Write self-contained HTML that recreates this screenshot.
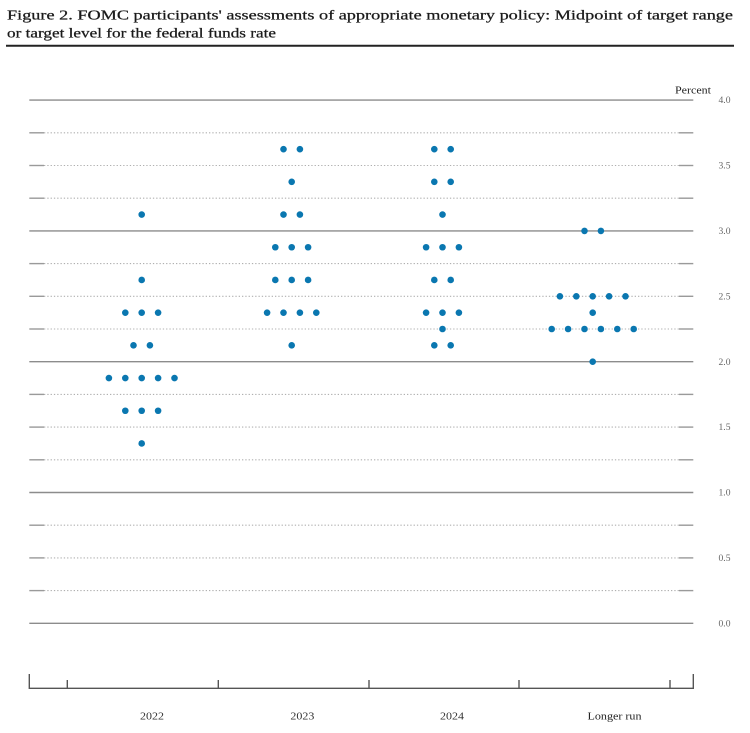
<!DOCTYPE html>
<html>
<head>
<meta charset="utf-8">
<style>
html,body{margin:0;padding:0;background:#fff;}
svg{display:block;}
text{font-family:"Liberation Serif",serif;}
</style>
</head>
<body>
<svg width="750" height="733" viewBox="0 0 750 733" xmlns="http://www.w3.org/2000/svg">
<rect width="750" height="733" fill="#fff"/>
<!-- Title -->
<text x="7" y="19.5" font-size="14" fill="#1a1a1a" stroke="#1a1a1a" stroke-width="0.25" textLength="726" lengthAdjust="spacingAndGlyphs">Figure 2.  FOMC participants' assessments of appropriate monetary policy:  Midpoint of target range</text>
<text x="7" y="37.5" font-size="14" fill="#1a1a1a" stroke="#1a1a1a" stroke-width="0.25" textLength="269" lengthAdjust="spacingAndGlyphs">or target level for the federal funds rate</text>
<line x1="6" y1="45.7" x2="734" y2="45.7" stroke="#222" stroke-width="2"/>

<!-- Percent -->
<text x="693" y="93.5" font-size="10.5" fill="#222" text-anchor="middle" textLength="36" lengthAdjust="spacingAndGlyphs">Percent</text>

<!-- Grid lines -->
<g id="grid">
<g stroke="#8c8c8c" stroke-width="1.4">
<line x1="29.3" y1="100.1" x2="693.3" y2="100.1"/>
<line x1="29.3" y1="230.9" x2="693.3" y2="230.9"/>
<line x1="29.3" y1="361.7" x2="693.3" y2="361.7"/>
<line x1="29.3" y1="492.5" x2="693.3" y2="492.5"/>
<line x1="29.3" y1="623.3" x2="693.3" y2="623.3"/>
</g>
<g stroke="#b0b0b0" stroke-width="1.1" stroke-dasharray="1.3 2">
<line x1="44" y1="132.8" x2="679" y2="132.8"/>
<line x1="44" y1="165.5" x2="679" y2="165.5"/>
<line x1="44" y1="198.2" x2="679" y2="198.2"/>
<line x1="44" y1="263.6" x2="679" y2="263.6"/>
<line x1="44" y1="296.3" x2="679" y2="296.3"/>
<line x1="44" y1="329.0" x2="679" y2="329.0"/>
<line x1="44" y1="394.4" x2="679" y2="394.4"/>
<line x1="44" y1="427.1" x2="679" y2="427.1"/>
<line x1="44" y1="459.8" x2="679" y2="459.8"/>
<line x1="44" y1="525.2" x2="679" y2="525.2"/>
<line x1="44" y1="557.9" x2="679" y2="557.9"/>
<line x1="44" y1="590.6" x2="679" y2="590.6"/>
</g>
<g stroke="#9a9a9a" stroke-width="1.4">
<line x1="29.3" y1="132.8" x2="44" y2="132.8"/><line x1="679" y1="132.8" x2="693.3" y2="132.8"/>
<line x1="29.3" y1="165.5" x2="44" y2="165.5"/><line x1="679" y1="165.5" x2="693.3" y2="165.5"/>
<line x1="29.3" y1="198.2" x2="44" y2="198.2"/><line x1="679" y1="198.2" x2="693.3" y2="198.2"/>
<line x1="29.3" y1="263.6" x2="44" y2="263.6"/><line x1="679" y1="263.6" x2="693.3" y2="263.6"/>
<line x1="29.3" y1="296.3" x2="44" y2="296.3"/><line x1="679" y1="296.3" x2="693.3" y2="296.3"/>
<line x1="29.3" y1="329.0" x2="44" y2="329.0"/><line x1="679" y1="329.0" x2="693.3" y2="329.0"/>
<line x1="29.3" y1="394.4" x2="44" y2="394.4"/><line x1="679" y1="394.4" x2="693.3" y2="394.4"/>
<line x1="29.3" y1="427.1" x2="44" y2="427.1"/><line x1="679" y1="427.1" x2="693.3" y2="427.1"/>
<line x1="29.3" y1="459.8" x2="44" y2="459.8"/><line x1="679" y1="459.8" x2="693.3" y2="459.8"/>
<line x1="29.3" y1="525.2" x2="44" y2="525.2"/><line x1="679" y1="525.2" x2="693.3" y2="525.2"/>
<line x1="29.3" y1="557.9" x2="44" y2="557.9"/><line x1="679" y1="557.9" x2="693.3" y2="557.9"/>
<line x1="29.3" y1="590.6" x2="44" y2="590.6"/><line x1="679" y1="590.6" x2="693.3" y2="590.6"/>
</g>
</g>

<!-- Y labels -->
<g font-size="9" fill="#666" text-anchor="middle">
<text x="724.5" y="103.2" textLength="12" lengthAdjust="spacingAndGlyphs">4.0</text>
<text x="724.5" y="168.6" textLength="12" lengthAdjust="spacingAndGlyphs">3.5</text>
<text x="724.5" y="234.0" textLength="12" lengthAdjust="spacingAndGlyphs">3.0</text>
<text x="724.5" y="299.4" textLength="12" lengthAdjust="spacingAndGlyphs">2.5</text>
<text x="724.5" y="364.8" textLength="12" lengthAdjust="spacingAndGlyphs">2.0</text>
<text x="724.5" y="430.2" textLength="12" lengthAdjust="spacingAndGlyphs">1.5</text>
<text x="724.5" y="495.6" textLength="12" lengthAdjust="spacingAndGlyphs">1.0</text>
<text x="724.5" y="561.0" textLength="12" lengthAdjust="spacingAndGlyphs">0.5</text>
<text x="724.5" y="626.4" textLength="12" lengthAdjust="spacingAndGlyphs">0.0</text>
</g>

<!-- Dots -->
<g fill="#0a77b0">
<circle cx="141.7" cy="214.55" r="3.3"/>
<circle cx="141.7" cy="279.95" r="3.3"/>
<circle cx="125.3" cy="312.65" r="3.3"/><circle cx="141.7" cy="312.65" r="3.3"/><circle cx="158.1" cy="312.65" r="3.3"/>
<circle cx="133.5" cy="345.35" r="3.3"/><circle cx="149.9" cy="345.35" r="3.3"/>
<circle cx="108.9" cy="378.05" r="3.3"/><circle cx="125.3" cy="378.05" r="3.3"/><circle cx="141.7" cy="378.05" r="3.3"/><circle cx="158.1" cy="378.05" r="3.3"/><circle cx="174.5" cy="378.05" r="3.3"/>
<circle cx="125.3" cy="410.75" r="3.3"/><circle cx="141.7" cy="410.75" r="3.3"/><circle cx="158.1" cy="410.75" r="3.3"/>
<circle cx="141.7" cy="443.45" r="3.3"/>
<circle cx="283.5" cy="149.15" r="3.3"/><circle cx="299.9" cy="149.15" r="3.3"/>
<circle cx="291.7" cy="181.85" r="3.3"/>
<circle cx="283.5" cy="214.55" r="3.3"/><circle cx="299.9" cy="214.55" r="3.3"/>
<circle cx="275.3" cy="247.25" r="3.3"/><circle cx="291.7" cy="247.25" r="3.3"/><circle cx="308.1" cy="247.25" r="3.3"/>
<circle cx="275.3" cy="279.95" r="3.3"/><circle cx="291.7" cy="279.95" r="3.3"/><circle cx="308.1" cy="279.95" r="3.3"/>
<circle cx="267.1" cy="312.65" r="3.3"/><circle cx="283.5" cy="312.65" r="3.3"/><circle cx="299.9" cy="312.65" r="3.3"/><circle cx="316.3" cy="312.65" r="3.3"/>
<circle cx="291.7" cy="345.35" r="3.3"/>
<circle cx="434.3" cy="149.15" r="3.3"/><circle cx="450.7" cy="149.15" r="3.3"/>
<circle cx="434.3" cy="181.85" r="3.3"/><circle cx="450.7" cy="181.85" r="3.3"/>
<circle cx="442.5" cy="214.55" r="3.3"/>
<circle cx="426.1" cy="247.25" r="3.3"/><circle cx="442.5" cy="247.25" r="3.3"/><circle cx="458.9" cy="247.25" r="3.3"/>
<circle cx="434.3" cy="279.95" r="3.3"/><circle cx="450.7" cy="279.95" r="3.3"/>
<circle cx="426.1" cy="312.65" r="3.3"/><circle cx="442.5" cy="312.65" r="3.3"/><circle cx="458.9" cy="312.65" r="3.3"/>
<circle cx="442.5" cy="329.0" r="3.3"/>
<circle cx="434.3" cy="345.35" r="3.3"/><circle cx="450.7" cy="345.35" r="3.3"/>
<circle cx="584.5" cy="230.9" r="3.3"/><circle cx="600.9" cy="230.9" r="3.3"/>
<circle cx="559.9" cy="296.3" r="3.3"/><circle cx="576.3" cy="296.3" r="3.3"/><circle cx="592.7" cy="296.3" r="3.3"/><circle cx="609.1" cy="296.3" r="3.3"/><circle cx="625.5" cy="296.3" r="3.3"/>
<circle cx="592.7" cy="312.65" r="3.3"/>
<circle cx="551.7" cy="329.0" r="3.3"/><circle cx="568.1" cy="329.0" r="3.3"/><circle cx="584.5" cy="329.0" r="3.3"/><circle cx="600.9" cy="329.0" r="3.3"/><circle cx="617.3" cy="329.0" r="3.3"/><circle cx="633.7" cy="329.0" r="3.3"/>
<circle cx="592.7" cy="361.7" r="3.3"/>
</g>

<!-- X axis -->
<g stroke="#555" stroke-width="1.4" fill="none">
<line x1="29.3" y1="688.3" x2="693.3" y2="688.3"/>
<line x1="29.3" y1="674" x2="29.3" y2="689"/>
<line x1="693.3" y1="674" x2="693.3" y2="689"/>
<line x1="67.3" y1="680" x2="67.3" y2="688.3"/>
<line x1="218.3" y1="680" x2="218.3" y2="688.3"/>
<line x1="369" y1="680" x2="369" y2="688.3"/>
<line x1="519" y1="680" x2="519" y2="688.3"/>
<line x1="670" y1="680" x2="670" y2="688.3"/>
</g>
<g font-size="11" fill="#333" text-anchor="middle">
<text x="152" y="719.5" textLength="24" lengthAdjust="spacingAndGlyphs">2022</text>
<text x="302.4" y="719.5" textLength="24" lengthAdjust="spacingAndGlyphs">2023</text>
<text x="452" y="719.5" textLength="24" lengthAdjust="spacingAndGlyphs">2024</text>
<text x="614.5" y="719.5" textLength="54" lengthAdjust="spacingAndGlyphs" fill="#222">Longer run</text>
</g>
</svg>
</body>
</html>
